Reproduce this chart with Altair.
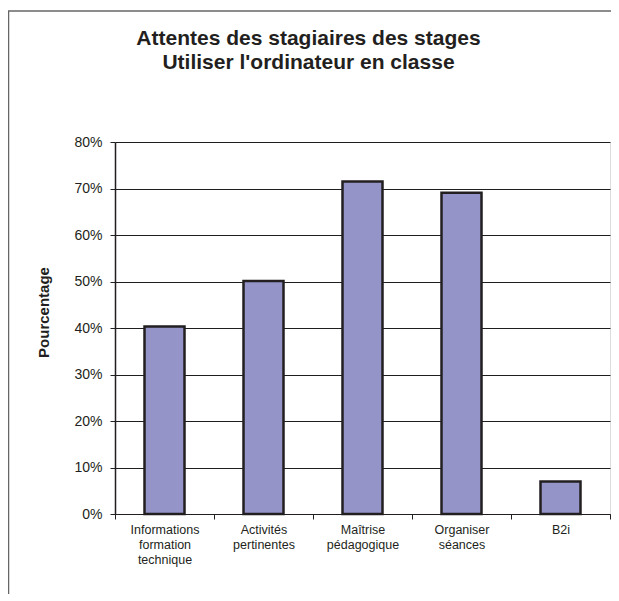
import altair as alt
import pandas as pd

categories = [
    "Informations formation technique",
    "Activités pertinentes",
    "Maîtrise pédagogique",
    "Organiser séances",
    "B2i",
]
values = [0.403, 0.501, 0.715, 0.691, 0.07]
y_ticks = [0, 0.1, 0.2, 0.3, 0.4, 0.5, 0.6, 0.7, 0.8]
title_lines = ["Attentes des stagiaires des stages", "Utiliser l'ordinateur en classe"]
y_title = "Pourcentage"

df = pd.DataFrame({"cat": categories, "val": values})
frame_df = pd.DataFrame({"a": [0]})

FONT = "Liberation Sans"
INK = "#231f20"

bars = alt.Chart(df).mark_bar(
    size=40, fill="#9494c8", stroke=INK, strokeWidth=2.5
).encode(
    x=alt.X(
        "cat:N",
        sort=categories,
        scale=alt.Scale(paddingInner=0, paddingOuter=0),
        axis=alt.Axis(
            title=None,
            labelAngle=0,
            labelExpr="split(datum.label, ' ')",
            labelFont=FONT,
            labelFontSize=12.5,
            labelColor=INK,
            labelLineHeight=15,
            labelPadding=4,
            labelBaseline="top",
            tickBand="extent",
            tickSize=5,
            tickColor=INK,
            domainColor=INK,
            domainWidth=1,
            grid=False,
        ),
    ),
    y=alt.Y(
        "val:Q",
        scale=alt.Scale(domain=[0, 0.8], nice=False),
        axis=alt.Axis(
            title=y_title,
            values=y_ticks,
            format=".0%",
            labelFont=FONT,
            labelFontSize=14,
            labelColor=INK,
            labelPadding=8,
            tickSize=5,
            tickColor=INK,
            domainColor=INK,
            domainWidth=1.5,
            grid=True,
            gridColor="#1e1e1e",
            gridWidth=1,
            titleFont=FONT,
            titleFontSize=15,
            titleFontWeight="bold",
            titleColor=INK,
            titleAngle=270,
            titleX=-72,
            titleY=170,
            titleAlign="center",
            titleBaseline="middle",
        ),
    ),
)

frame_left = alt.Chart(frame_df).mark_rule(color="#666666", strokeWidth=1.5).encode(
    x=alt.value(-106.5), y=alt.value(-131), y2=alt.value(470)
)
frame_top = alt.Chart(frame_df).mark_rule(color="#666666", strokeWidth=1.5).encode(
    x=alt.value(-107), x2=alt.value(500), y=alt.value(-131)
)

chart = alt.layer(bars, frame_left, frame_top).properties(
    width=495,
    height=372,
    autosize=alt.AutoSizeParams(type="none"),
    padding={"left": 107, "top": 134, "right": 1, "bottom": 80},
    title=alt.TitleParams(
        text=title_lines,
        font=FONT,
        fontSize=21,
        fontWeight="bold",
        color=INK,
        anchor="middle",
        frame="group",
        dx=-54,
        offset=-63,
        lineHeight=24,
    ),
).configure_view(
    fill="#c8c9cb", stroke="#8c8c8c", strokeWidth=2
).configure(background="white")

chart.save("out.html", embed_options={"renderer": "svg", "actions": False})
